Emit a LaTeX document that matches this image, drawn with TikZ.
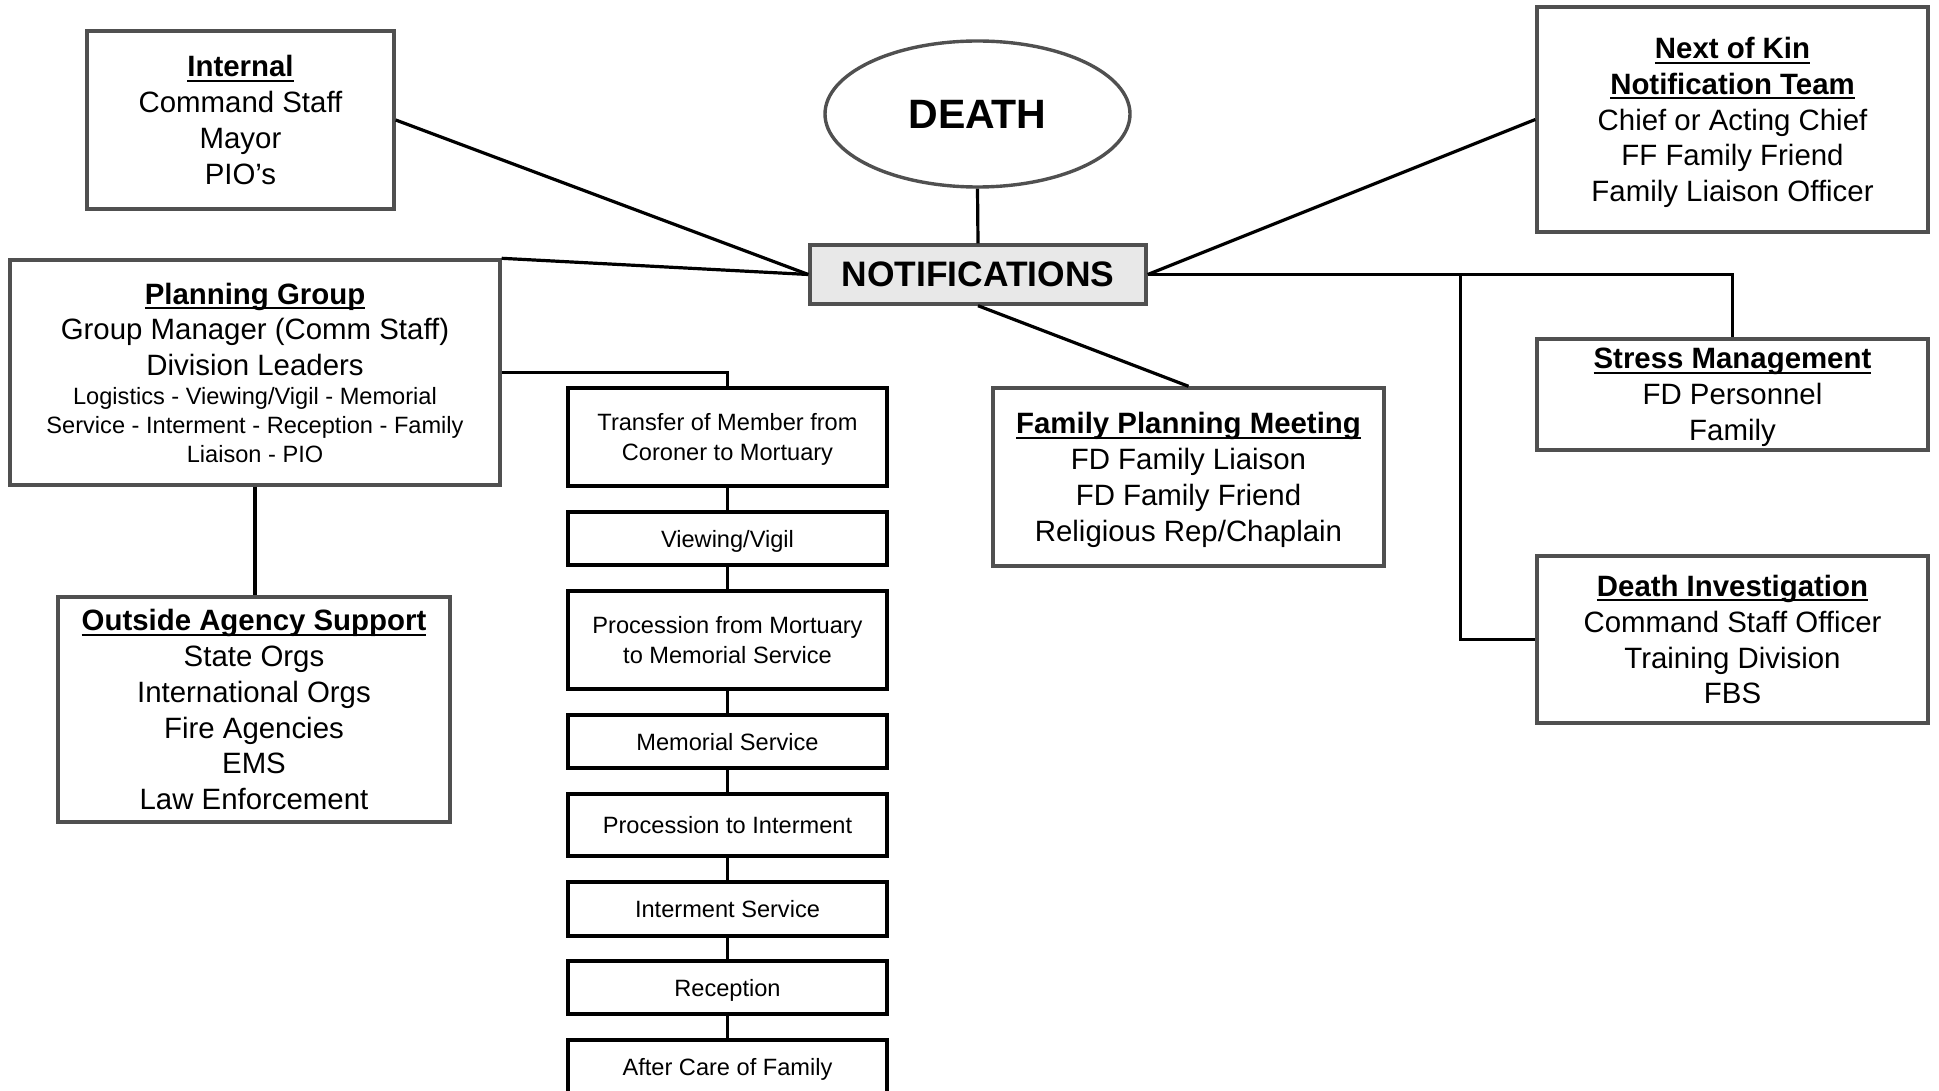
\documentclass[tikz,border=0pt]{standalone}
\usepackage{fontspec}
\setmainfont{Liberation Sans}
\usetikzlibrary{shapes.geometric}
\definecolor{boxgray}{HTML}{505050}
\definecolor{notiffill}{HTML}{E8E8E8}
\newsavebox{\ttlbox}
\newcommand{\ttl}[1]{\sbox{\ttlbox}{\bfseries #1}\rlap{\usebox{\ttlbox}}\raisebox{-2.5pt}{\rule{\wd\ttlbox}{1pt}}}
\newcommand{\smallf}{\fontsize{11.8}{14.5}\selectfont}
\newcommand{\nd}[2][0pt]{\raisebox{0pt}[\height][#1]{#2}}
\begin{document}
\begin{tikzpicture}[x=0.5pt,y=-0.5pt,
  box/.style={rectangle, draw=boxgray, line width=1.7pt, fill=white, inner sep=0pt, align=center, font=\fontsize{14.7}{17.9}\selectfont},
  chainbox/.style={rectangle, draw=black, line width=2pt, fill=white, inner sep=0pt, align=center, font=\fontsize{11.8}{14.8}\selectfont, minimum width=159.5pt},
  conn/.style={line width=1.6pt, draw=black},
]
\useasboundingbox (0,0) rectangle (1939,1091);

\node[box, minimum width=153.5pt, minimum height=89pt] (internal) at (240.5,120) {\ttl{Internal}\\Command Staff\\Mayor\\\nd{PIO’s}};
\node[ellipse, draw=boxgray, line width=1.7pt, fill=white, inner sep=0pt, minimum width=152.5pt, minimum height=73pt, font=\fontsize{20.5}{24}\selectfont\bfseries] (death) at (977.5,114) {DEATH};
\node[box, fill=notiffill, minimum width=168pt, minimum height=29.5pt, font=\fontsize{17.7}{21}\selectfont\bfseries] (notif) at (978,274.5) {NOTIFICATIONS};
\node[box, minimum width=195.5pt, minimum height=112.5pt] (nok) at (1732.5,119.5) {\ttl{Next of Kin}\\\ttl{Notification Team}\\Chief or Acting Chief\\FF Family Friend\\\nd{Family Liaison Officer}};
\node[box, minimum width=245pt, minimum height=112.5pt] (planning) at (255,372.5) {\ttl{Planning Group}\\Group Manager (Comm Staff)\\Division Leaders\\[-3.6pt]{\smallf Logistics - Viewing/Vigil - Memorial}\\[-3.4pt]{\smallf Service - Interment - Reception - Family}\\[-3.4pt]\nd[-1.2pt]{\smallf Liaison - PIO}};
\node[box, minimum width=195.5pt, minimum height=55.5pt] (stress) at (1732.5,394.5) {\ttl{Stress Management}\\FD Personnel\\\nd{Family}};
\node[box, minimum width=195.5pt, minimum height=89pt] (fpm) at (1188.5,477) {\ttl{Family Planning Meeting}\\FD Family Liaison\\FD Family Friend\\\nd{Religious Rep/Chaplain}};
\node[box, minimum width=195.5pt, minimum height=83.5pt] (di) at (1732.5,639.5) {\ttl{Death Investigation}\\Command Staff Officer\\Training Division\\\nd[-0.9pt]{FBS}};
\node[box, minimum width=196pt, minimum height=112.5pt] (outside) at (254,709.5) {\ttl{Outside Agency Support}\\State Orgs\\International Orgs\\Fire Agencies\\EMS\\\nd[-0.6pt]{Law Enforcement}};

\node[chainbox, minimum height=49pt] (transfer) at (727.5,437) {Transfer of Member from\\\nd{Coroner to Mortuary}};
\node[chainbox, minimum height=26.5pt] (viewing) at (727.5,538.5) {\nd{Viewing/Vigil}};
\node[chainbox, minimum height=49pt] (procmort) at (727.5,640) {Procession from Mortuary\\\nd{to Memorial Service}};
\node[chainbox, minimum height=26.5pt] (memorial) at (727.5,741.5) {\nd{Memorial Service}};
\node[chainbox, minimum height=31pt] (procint) at (727.5,825) {\nd{Procession to Interment}};
\node[chainbox, minimum height=27pt] (intserv) at (727.5,909) {\nd{Interment Service}};
\node[chainbox, minimum height=26.5pt] (reception) at (727.5,987.5) {\nd{Reception}};
\node[chainbox, minimum height=26.5pt] (aftercare) at (727.5,1066.5) {\nd{After Care of Family}};

\draw[conn] (internal.east) -- (notif.west);
\draw[conn] (planning.north east) -- (notif.west);
\draw[conn] (death.south) -- (notif.north);
\draw[conn] (nok.west) -- (notif.east);
\draw[conn] (notif.east) -| (stress.north);
\coordinate (br) at (1460.5,274.5);
\draw[conn] (br) |- (di.west);
\draw[conn] (notif.south) -- (fpm.north);
\draw[conn] (planning.east) -| (transfer.north);
\draw[conn] (planning.south) -- (planning.south |- outside.north);
\draw[conn] (transfer) -- (viewing);
\draw[conn] (viewing) -- (procmort);
\draw[conn] (procmort) -- (memorial);
\draw[conn] (memorial) -- (procint);
\draw[conn] (procint) -- (intserv);
\draw[conn] (intserv) -- (reception);
\draw[conn] (reception) -- (aftercare);
\end{tikzpicture}
\end{document}
